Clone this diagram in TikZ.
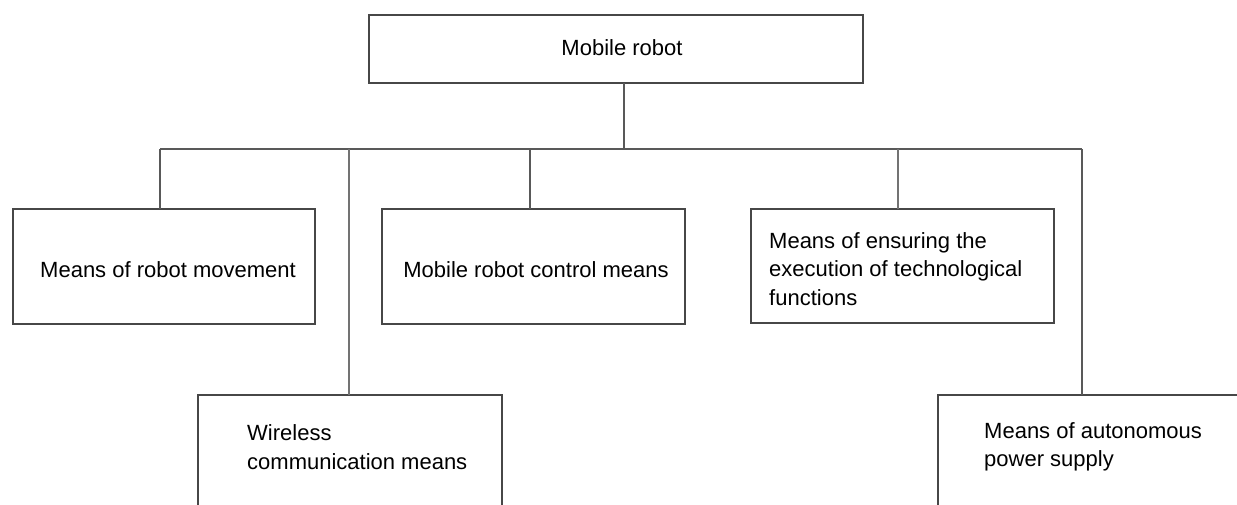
\documentclass[tikz,border=0pt]{standalone}
\usepackage{fontspec}
\setmainfont{Liberation Sans}
\begin{document}
\begin{tikzpicture}[x=1pt,y=-1pt,
  box/.style={draw=black!72, line width=2.2pt, inner sep=0pt, outer sep=0pt, anchor=north west},
  lbl/.style={inner sep=0pt, font=\fontsize{22}{28.5}\selectfont, text=black},
  conn/.style={draw=black!65, line width=1.6pt},
  thin/.style={draw=black!55, line width=1.1pt}]
\useasboundingbox (0,0) rectangle (1237,504);
\clip (0,0) rectangle (1237,504);
\fill[white] (0,0) rectangle (1237,504);
% boxes
\node[box, minimum width=494pt, minimum height=68pt] (top) at (369,15) {};
\node[box, minimum width=302pt, minimum height=115pt] (b1) at (13,209) {};
\node[box, minimum width=303pt, minimum height=115pt] (b2) at (382,209) {};
\node[box, minimum width=303pt, minimum height=114pt] (b3) at (751,209) {};
\node[box, minimum width=304pt, minimum height=130pt] (b4) at (198,395) {};
\node[box, minimum width=320pt, minimum height=130pt] (b5) at (938,395) {};
% labels
\node[lbl] (t0) at (622,48) {Mobile robot};
\node[lbl] (t1) at (168,270) {Means of robot movement};
\node[lbl] (t2) at (536,270) {Mobile robot control means};
\node[lbl, anchor=west, align=left] (t3) at (769,269) {Means of ensuring the\\execution of technological\\functions};
\node[lbl, anchor=west, align=left] (t4) at (247,447) {Wireless\\communication means};
\node[lbl, anchor=west, align=left] (t5) at (984,447) {Means of autonomous\\power supply};
% connectors
\coordinate (j) at (624,149);
\coordinate (L) at (160,149);
\coordinate (R) at (1082,149);
\coordinate (c2) at (530,149);
\coordinate (c3) at (898,149);
\coordinate (c4) at (349,149);
\draw[conn] (j |- top.south) -- (j);
\draw[conn] (L) -- (R);
\draw[conn] (L) -- (L |- b1.north);
\draw[conn] (c2) -- (c2 |- b2.north);
\draw[thin] (c3) -- (c3 |- b3.north);
\draw[thin] (c4) -- (c4 |- b4.north);
\draw[conn] (R) -- (R |- b5.north);
\end{tikzpicture}
\end{document}
